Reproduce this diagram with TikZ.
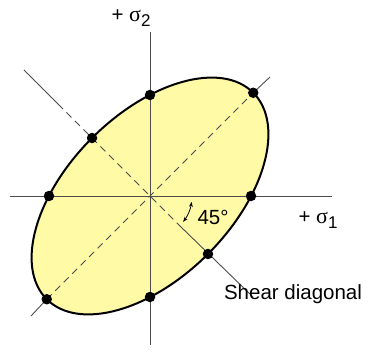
\documentclass[tikz,border=0pt]{standalone}
\usepackage{fontspec}
\usetikzlibrary{arrows.meta}
\setmainfont{Liberation Sans}
\newfontfamily\sigfont{Liberation Serif}
\newcommand{\sig}[1]{{\fontsize{22}{22}\sigfont σ}\raisebox{-0.45ex}{\fontsize{17}{17}\selectfont #1}}
\begin{document}
\begin{tikzpicture}[x=1pt,y=1pt,font=\fontsize{20.5}{24}\selectfont]
\tikzstyle{axe} = [draw=black!70,line width=0.9pt]
\tikzstyle{cache} = [axe,dash pattern=on 7pt off 5pt]
\tikzstyle{point} = [circle,fill=black,inner sep=0pt,minimum size=10.5pt]
\useasboundingbox (0,0) rectangle (369,354);

%centre et extremites des axes
\coordinate (O) at (150,158);
\coordinate (Xg) at (10,158);
\coordinate (Xd) at (332,158);
\coordinate (Yb) at (150,9);
\coordinate (Yh) at (150,322);
\coordinate (Dg) at (31,38);
\coordinate (Dd) at (270,277);
\coordinate (Cg) at (24,284);
\coordinate (Cd) at (253,57);
\coordinate (Cg1) at (58,250);
\coordinate (Cd1) at (180,128);

%ellipse
\filldraw[fill=yellow!35,line width=2pt,rotate around={45:(O)}] (O) ellipse (146 and 82);

%axes
\draw[axe] (Xg)--(Xd);
\draw[axe] (Yb)--(Yh);

%diagonales
\draw[axe] (Dg)--([shift={(225:146)}]O);
\draw[cache] ([shift={(225:146)}]O)--([shift={(45:146)}]O);
\draw[axe] ([shift={(45:146)}]O)--(Dd);
\draw[axe] (Cg)--(Cg1);
\draw[cache] (Cg1)--(Cd1);
\draw[axe] (Cd1)--(Cd);

%points sur l'ellipse
\node[point] (P1) at ([shift={(45:146)}]O) {};
\node[point] (P2) at ([shift={(225:146)}]O) {};
\node[point] (P3) at ([shift={(135:82)}]O) {};
\node[point] (P4) at ([shift={(-45:82)}]O) {};
\node[point] (P5) at ([shift={(0:101)}]O) {};
\node[point] (P6) at ([shift={(180:101)}]O) {};
\node[point] (P7) at ([shift={(90:101)}]O) {};
\node[point] (P8) at ([shift={(-90:101)}]O) {};

%angle
\draw[black,line width=0.8pt,{Stealth[length=5pt]}-{Stealth[length=5pt]}] ([shift={(-8:42)}]O) arc (-8:-38:42);
\node (angle) at (213,137) {45°};

%textes
\node (s1) at (318,134) {+ \sig{1}};
\node (s2) at (131,336) {+ \sig{2}};
\node (cis) at (293,60) {Shear diagonal};
\end{tikzpicture}
\end{document}
